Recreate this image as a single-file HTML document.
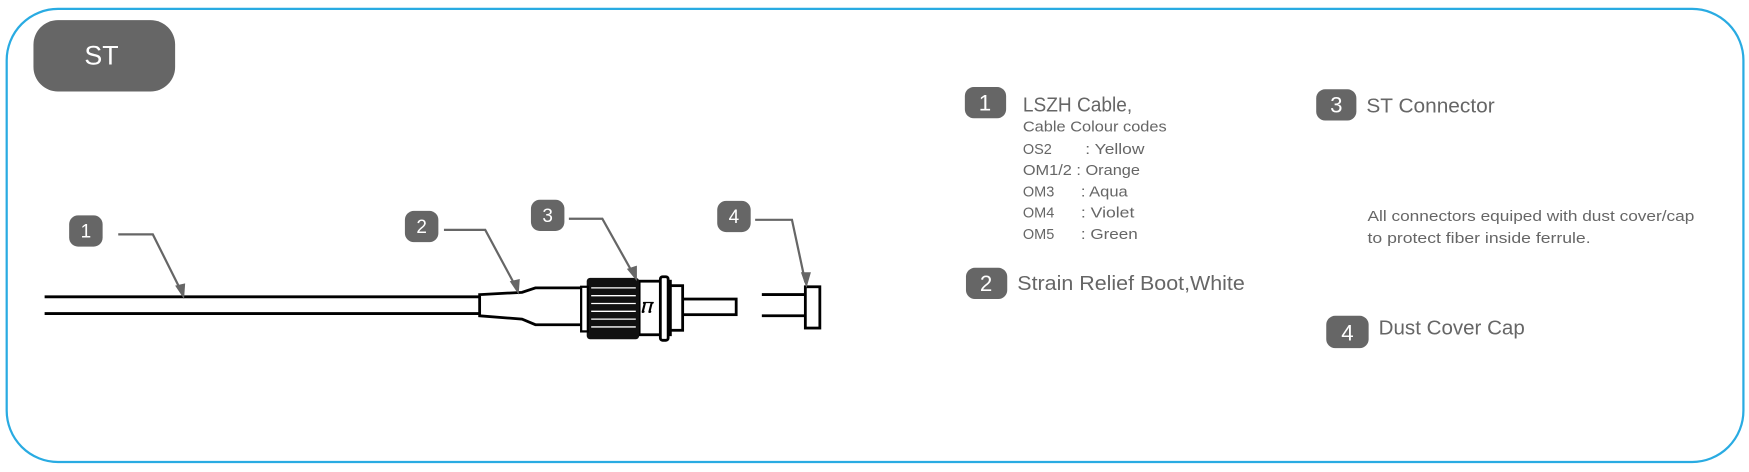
<!DOCTYPE html>
<html><head><style>html,body{margin:0;padding:0;background:#fff}svg{display:block}</style></head>
<body>
<svg width="1749" height="472" viewBox="0 0 1568 423" preserveAspectRatio="none" xmlns="http://www.w3.org/2000/svg" font-family="Liberation Sans, sans-serif">
<rect x="6" y="8" width="1557" height="406" rx="46" fill="#fff" stroke="#29abe2" stroke-width="2"/>
<rect x="30" y="18" width="127" height="64" rx="22" fill="#666"/>
<text x="91" y="58" fill="#fff" font-size="24" text-anchor="middle">ST</text>
<g stroke="#000" stroke-width="2.5" fill="#fff">
<line x1="40" y1="266" x2="430" y2="266"/>
<line x1="40" y1="281" x2="430" y2="281"/>
<path d="M430 264 L468 262 L480 258 L525 258 L525 291 L480 291 L468 286 L430 283 Z"/>
<rect x="612" y="268" width="48" height="14"/>
<rect x="598" y="256" width="14" height="40"/>
<rect x="573" y="252" width="28" height="48"/>
<rect x="592" y="248" width="7" height="57" rx="2"/>
<line x1="683" y1="264" x2="722" y2="264"/>
<line x1="683" y1="283" x2="722" y2="283"/>
<rect x="722" y="257" width="13" height="37"/>
</g>
<rect x="526" y="249" width="47" height="55" rx="3" fill="#111"/>
<g stroke="#fff" stroke-width="1.2">
<line x1="530" y1="258" x2="570" y2="258"/><line x1="530" y1="265" x2="570" y2="265"/>
<line x1="530" y1="272" x2="570" y2="272"/><line x1="530" y1="279" x2="570" y2="279"/>
<line x1="530" y1="286" x2="570" y2="286"/><line x1="530" y1="293" x2="570" y2="293"/>
</g>
<rect x="521" y="257" width="6" height="40" fill="#fff" stroke="#000" stroke-width="2"/>
<text x="574" y="280" font-size="14" font-style="italic" font-weight="bold">Ⲡ</text>
<g fill="#666">
<rect x="62" y="193" width="30" height="28" rx="8"/>
<rect x="363" y="189" width="30" height="28" rx="8"/>
<rect x="476" y="179" width="30" height="28" rx="8"/>
<rect x="643" y="180" width="30" height="28" rx="8"/>
</g>
<g fill="#fff" font-size="17" text-anchor="middle">
<text x="77" y="213">1</text><text x="378" y="209">2</text><text x="491" y="199">3</text><text x="658" y="200">4</text>
</g>
<g stroke="#666" stroke-width="2" fill="none">
<polyline points="106,210 137,210 163,262"/>
<polyline points="398,206 435,206 463,258"/>
<polyline points="510,196 540,196 568,246"/>
<polyline points="677,197 710,197 722,253"/>
</g>
<g fill="#666">
<polygon points="165,268 157,256 166,254"/>
<polygon points="465,264 457,252 466,250"/>
<polygon points="571,252 562,241 571,238"/>
<polygon points="723,258 718,244 727,244"/>
</g>
<g fill="#666">
<rect x="865" y="78" width="37" height="28" rx="8"/>
<rect x="866" y="240" width="37" height="28" rx="8"/>
<rect x="1180" y="80" width="36" height="28" rx="8"/>
<rect x="1189" y="283" width="38" height="29" rx="8"/>
</g>
<g fill="#fff" font-size="20" text-anchor="middle">
<text x="883" y="99">1</text><text x="884" y="261">2</text><text x="1198" y="101">3</text><text x="1208" y="305">4</text>
</g>
<g fill="#666">
<text x="917" y="100" font-size="18" textLength="98" lengthAdjust="spacingAndGlyphs">LSZH Cable,</text>
<text x="917" y="118" font-size="13" textLength="129" lengthAdjust="spacingAndGlyphs">Cable Colour codes</text>
<text x="917" y="138" font-size="13">OS2</text><text x="973" y="138" font-size="13" textLength="53" lengthAdjust="spacingAndGlyphs">: Yellow</text>
<text x="917" y="157" font-size="13" textLength="105" lengthAdjust="spacingAndGlyphs">OM1/2 : Orange</text>
<text x="917" y="176" font-size="13">OM3</text><text x="969" y="176" font-size="13" textLength="42" lengthAdjust="spacingAndGlyphs">: Aqua</text>
<text x="917" y="195" font-size="13">OM4</text><text x="969" y="195" font-size="13" textLength="48" lengthAdjust="spacingAndGlyphs">: Violet</text>
<text x="917" y="214" font-size="13">OM5</text><text x="969" y="214" font-size="13" textLength="51" lengthAdjust="spacingAndGlyphs">: Green</text>
<text x="912" y="260" font-size="18.5" textLength="204" lengthAdjust="spacingAndGlyphs">Strain Relief Boot,White</text>
<text x="1225" y="101" font-size="18.5" textLength="115" lengthAdjust="spacingAndGlyphs">ST Connector</text>
<text x="1226" y="198" font-size="13.5" textLength="293" lengthAdjust="spacingAndGlyphs">All connectors equiped with dust cover/cap</text>
<text x="1226" y="218" font-size="13.5" textLength="200" lengthAdjust="spacingAndGlyphs">to protect fiber inside ferrule.</text>
<text x="1236" y="300" font-size="18.5" textLength="131" lengthAdjust="spacingAndGlyphs">Dust Cover Cap</text>
</g>
</svg>
</body></html>
